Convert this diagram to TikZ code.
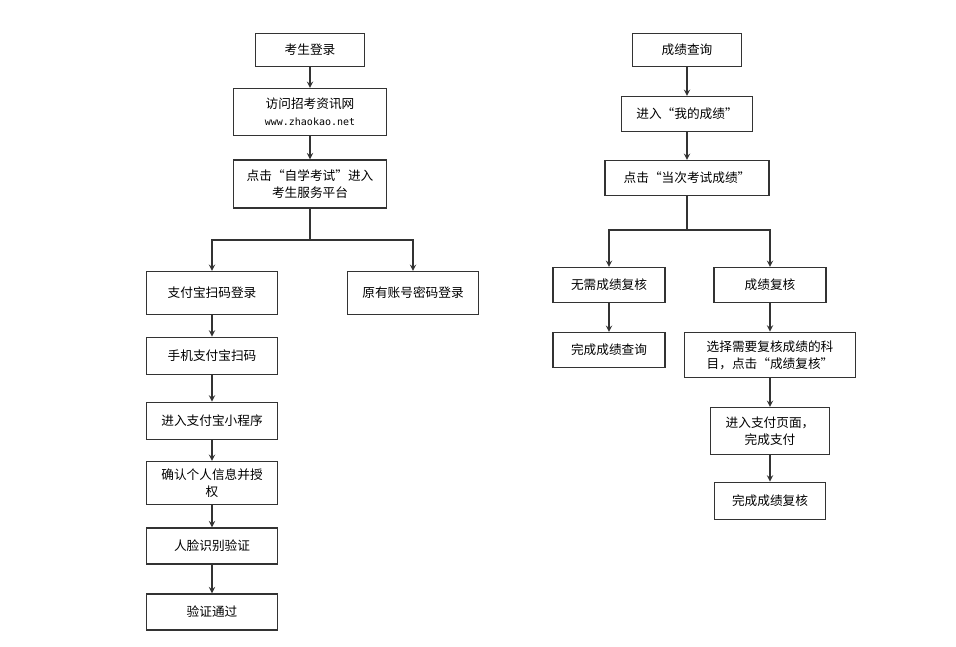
\documentclass[tikz,border=0pt]{standalone}
\usepackage{fontspec}
\setmainfont{Noto Sans CJK SC}
\newfontfamily\urlfont{DejaVu Sans Mono}
\usetikzlibrary{arrows, positioning}
\definecolor{lineDark}{HTML}{333333}
\tikzstyle{stepbox} = [rectangle, draw=lineDark, line width=1.1pt, fill=white, align=center, font=\fontsize{9.5}{13}\selectfont, inner sep=2pt]
\tikzstyle{arrow} = [draw=lineDark, line width=1.1pt, ->, >=stealth]
\tikzstyle{link} = [draw=lineDark, line width=1.1pt]

\begin{document}
\begin{tikzpicture}[x=0.75pt, y=-0.75pt]
\useasboundingbox (0,0) rectangle (956,646);

% left column
\node (login) [stepbox, minimum width=82pt, minimum height=25pt] at (310,50) {考生登录};
\node (visit) [stepbox, minimum width=115pt, minimum height=35pt] at (310,112) {访问招考资讯网\\{\urlfont\fontsize{7.5}{11}\selectfont www.zhaokao.net}};
\node (enter) [stepbox, minimum width=115pt, minimum height=36pt] at (310,184) {点击“自学考试”进入\\考生服务平台};
\node (alipay) [stepbox, minimum width=98pt, minimum height=32pt] at (212,293) {支付宝扫码登录};
\node (passwd) [stepbox, minimum width=98pt, minimum height=32pt] at (413,293) {原有账号密码登录};
\node (scan) [stepbox, minimum width=98pt, minimum height=28pt] at (212,356) {手机支付宝扫码};
\node (mini) [stepbox, minimum width=98pt, minimum height=28pt] at (212,421) {进入支付宝小程序};
\node (confirm) [stepbox, minimum width=98pt, minimum height=32pt] at (212,483) {确认个人信息并授\\权};
\node (face) [stepbox, minimum width=98pt, minimum height=27pt] at (212,546) {人脸识别验证};
\node (pass) [stepbox, minimum width=98pt, minimum height=27pt] at (212,612) {验证通过};

\draw [arrow] (login) -- (visit);
\draw [arrow] (visit) -- (enter);
\coordinate (splitL) at (310,240);
\draw [link] (enter) -- (splitL);
\draw [arrow] (splitL) -| (alipay);
\draw [arrow] (splitL) -| (passwd);
\draw [arrow] (alipay) -- (scan);
\draw [arrow] (scan) -- (mini);
\draw [arrow] (mini) -- (confirm);
\draw [arrow] (confirm) -- (face);
\draw [arrow] (face) -- (pass);

% right column
\node (query) [stepbox, minimum width=82pt, minimum height=25pt] at (687,50) {成绩查询};
\node (mine) [stepbox, minimum width=98pt, minimum height=26pt] at (687,114) {进入“我的成绩”};
\node (current) [stepbox, minimum width=123pt, minimum height=26pt] at (687,178) {点击“当次考试成绩”};
\node (noreview) [stepbox, minimum width=84pt, minimum height=26pt] at (609,285) {无需成绩复核};
\node (review) [stepbox, minimum width=84pt, minimum height=26pt] at (770,285) {成绩复核};
\node (done) [stepbox, minimum width=84pt, minimum height=26pt] at (609,350) {完成成绩查询};
\node (choose) [stepbox, minimum width=128pt, minimum height=34pt] at (770,355) {选择需要复核成绩的科\\目，点击“成绩复核”};
\node (payment) [stepbox, minimum width=89pt, minimum height=35pt] at (770,431) {进入支付页面，\\完成支付};
\node (finish) [stepbox, minimum width=83pt, minimum height=28pt] at (770,501) {完成成绩复核};

\draw [arrow] (query) -- (mine);
\draw [arrow] (mine) -- (current);
\coordinate (splitR) at (687,230);
\draw [link] (current) -- (splitR);
\draw [arrow] (splitR) -| (noreview);
\draw [arrow] (splitR) -| (review);
\draw [arrow] (noreview) -- (done);
\draw [arrow] (review) -- (choose);
\draw [arrow] (choose) -- (payment);
\draw [arrow] (payment) -- (finish);

\end{tikzpicture}
\end{document}
